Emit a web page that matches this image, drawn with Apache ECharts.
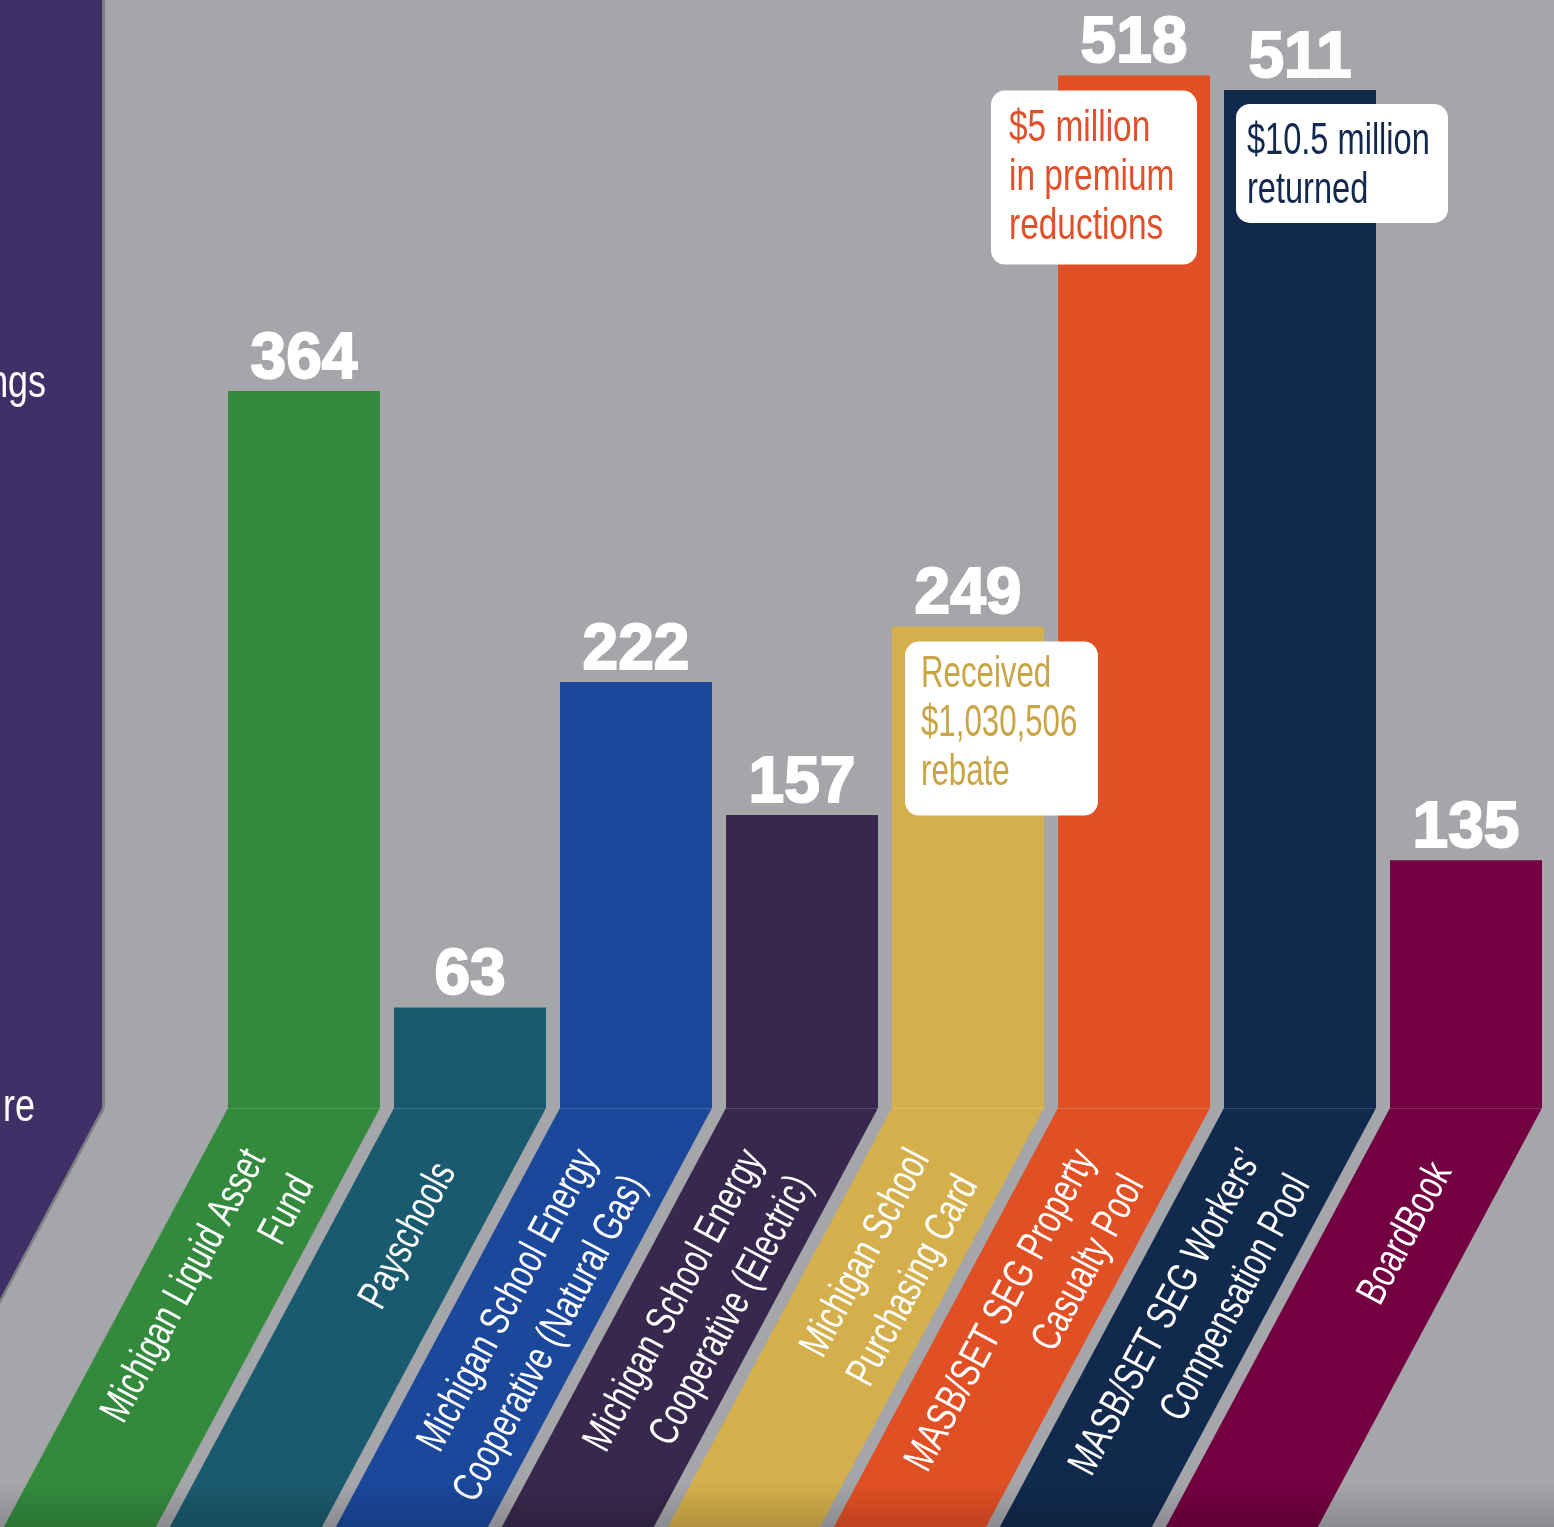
<!DOCTYPE html>
<html>
<head>
<meta charset="utf-8">
<script src="https://cdn.jsdelivr.net/npm/echarts/dist/echarts.min.js"></script>
<style>
html,body{margin:0;padding:0;background:#a5a6aa;}
#c{width:1554px;height:1527px;}
</style>
</head>
<body>
<div id="c"></div>
<script>
// ---- data ----
const categories = [
  'Michigan Liquid Asset\nFund',
  'Payschools',
  'Michigan School Energy\nCooperative (Natural Gas)',
  'Michigan School Energy\nCooperative (Electric)',
  'Michigan School\nPurchasing Card',
  'MASB/SET SEG Property\nCasualty Pool',
  'MASB/SET SEG Workers\u2019\nCompensation Pool',
  'BoardBook'
];
const values = [364, 63, 222, 157, 249, 518, 511, 135];
const barColors = ['#338a3d', '#1a5a6e', '#1b489b', '#38284d', '#d4af4b', '#e14f24', '#10294d', '#730041'];
const noteIndex = [5, 6, 4];
const noteTexts = ['$5 million\nin premium\nreductions', '$10.5 million\nreturned', 'Received\n$1,030,506\nrebate'];
const noteColors = ['#e0502a', '#12284c', '#c9a546'];
const panelTexts = ['ngs', 're'];

// ---- style constants ----
const Y_MIN = 14, Y_MAX = 550;
const BAR_W = 152;
const SLANT = 0.535;
const ANGLE = Math.atan(1 / SLANT);
const FONT = '"Liberation Sans", Arial, sans-serif';
const COND = 0.78;
const RIB_COND = 0.74;

const chart = echarts.init(document.getElementById('c'), null, {renderer: 'canvas'});

const option = {
  backgroundColor: '#a5a6aa',
  animation: false,
  grid: {left: 221, right: 5, top: 10, bottom: 419},
  xAxis: {type: 'category', data: categories, show: false},
  yAxis: {type: 'value', min: Y_MIN, max: Y_MAX, show: false},
  series: [
    {
      type: 'bar',
      barWidth: BAR_W,
      data: values.map((v, i) => ({value: v, itemStyle: {color: barColors[i]}})),
      label: {
        show: true,
        position: 'top',
        distance: -1,
        color: '#ffffff',
        fontFamily: FONT,
        fontWeight: 'bold',
        fontSize: 64,
        textBorderColor: '#ffffff',
        textBorderWidth: 2
      },
      z: 3
    },
    {
      type: 'custom',
      clip: false,
      data: values.map((v, i) => [i, v]),
      encode: {x: 0, y: 1},
      z: 2,
      renderItem: function (params, api) {
        const idx = api.value(0);
        const base = api.coord([idx, Y_MIN]);
        const cx = base[0], by = base[1];
        const w = BAR_W;
        const H = api.getHeight();
        const shift = (H - by) * SLANT;
        const x0 = cx - w / 2, x1 = cx + w / 2;
        return {
          type: 'group',
          children: [
            {type: 'polygon', shape: {points: [[x0, by], [x1, by], [x1 - shift, H], [x0 - shift, H]]},
             style: {fill: barColors[idx]}},
            {type: 'line', shape: {x1: x0, y1: by + 0.5, x2: x1, y2: by + 0.5},
             style: {stroke: 'rgba(255,255,255,0.16)', lineWidth: 1}},
            {type: 'text', x: x0 + 52, y: by + 58, rotation: ANGLE, scaleX: RIB_COND, scaleY: 1,
             style: {text: categories[idx], fill: '#ffffff', font: '42px ' + FONT,
                     align: 'right', verticalAlign: 'middle', lineHeight: 55}}
          ]
        };
      }
    }
  ]
};
chart.setOption(option);

// ---- decorations & annotations ----
function buildGraphics() {
  const H = chart.getHeight();
  const base0 = chart.convertToPixel({xAxisIndex: 0, yAxisIndex: 0}, [0, Y_MIN]);
  const baseY = base0[1];
  const panelRight = base0[0] - BAR_W / 2 - 126;
  const drop = (H - baseY) * SLANT;
  const els = [];
  els.push({type: 'polygon', z: 1,
    shape: {points: [[-400, 0], [panelRight + 3, 0], [panelRight + 3, baseY], [panelRight + 3 - drop, H], [-400, H]]},
    style: {fill: '#7e7f83'}});
  els.push({type: 'polygon', z: 2,
    shape: {points: [[-400, 0], [panelRight, 0], [panelRight, baseY], [panelRight - drop, H], [-400, H]]},
    style: {fill: '#3f3067'}});
  els.push({type: 'text', z: 3, x: 46, y: 384, scaleX: COND,
    style: {text: panelTexts[0], fill: '#ffffff', font: '46px ' + FONT, align: 'right', verticalAlign: 'middle'}});
  els.push({type: 'text', z: 3, x: 35, y: 1108, scaleX: COND,
    style: {text: panelTexts[1], fill: '#ffffff', font: '46px ' + FONT, align: 'right', verticalAlign: 'middle'}});

  const boxGeom = [
    {dx: -143, dy: 15, w: 206, h: 174, tx: 18, ty: 14, sx: 0.76},
    {dx: -64, dy: 14, w: 212, h: 119, tx: 11, ty: 13, sx: 0.74},
    {dx: -63, dy: 15, w: 193, h: 174, tx: 16, ty: 9, sx: 0.71}
  ];
  noteIndex.forEach((idx, k) => {
    const p = chart.convertToPixel({xAxisIndex: 0, yAxisIndex: 0}, [idx, values[idx]]);
    const g = boxGeom[k];
    const bx = p[0] + g.dx, byy = p[1] + g.dy;
    els.push({type: 'rect', z: 20, shape: {x: bx, y: byy, width: g.w, height: g.h, r: 14},
      style: {fill: '#ffffff'}});
    els.push({type: 'text', z: 21, x: bx + g.tx, y: byy + g.ty, scaleX: g.sx,
      style: {text: noteTexts[k], fill: noteColors[k], font: '44px ' + FONT,
              align: 'left', verticalAlign: 'top', lineHeight: 49}});
  });

  els.push({type: 'rect', z: 30, silent: true,
    shape: {x: 0, y: H - 44, width: chart.getWidth(), height: 44},
    style: {fill: new echarts.graphic.LinearGradient(0, 0, 0, 1, [
      {offset: 0, color: 'rgba(0,0,0,0)'}, {offset: 1, color: 'rgba(0,0,0,0.16)'}])}});
  chart.setOption({graphic: {elements: els}});
}
buildGraphics();
</script>
</body>
</html>
